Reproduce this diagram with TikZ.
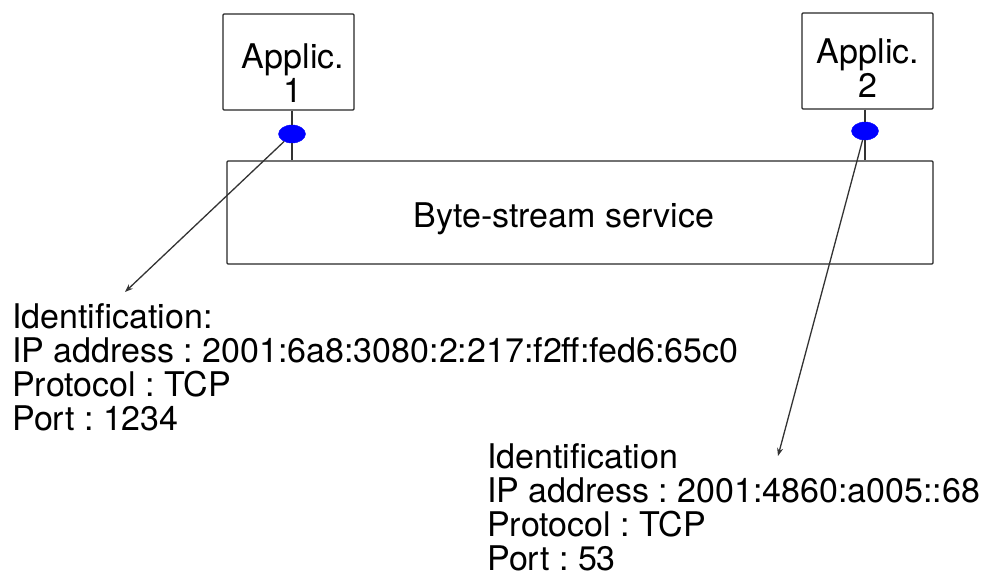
\documentclass[tikz,border=0pt]{standalone}
\usepackage{fontspec}
\setmainfont{TeX Gyre Heros}
\usetikzlibrary{arrows.meta,shapes.geometric}
\frenchspacing

\begin{document}
\begin{tikzpicture}[
  x=1pt, y=-1pt,
  box/.style={draw=black!85, line width=1.3pt, rounded corners=1pt, inner sep=0pt},
  appbox/.style={box, minimum width=131pt, minimum height=96pt},
  txt/.style={font=\fontsize{34}{34}\selectfont, inner sep=0pt},
  port/.style={ellipse, fill=blue, draw=blue, minimum width=27pt, minimum height=18pt, inner sep=0pt},
  wire/.style={draw=black!80, line width=1.3pt},
  arrow/.style={-{Stealth[length=8pt,width=6pt]}, draw=black!80, line width=1.3pt}
]
\useasboundingbox (0,0) rectangle (982,576);
% applications and the service between them
\node[appbox] (app1) at (288.5,62) {};
\node[appbox] (app2) at (867.5,61) {};
\node[txt, align=center] (app1txt) at (293,73.5) {Applic.\\1};
\node[txt, align=center] (app2txt) at (868,68) {Applic.\\2};
\node[box, minimum width=706pt, minimum height=103pt] (svc) at (580,212.5) {};
\node[txt, anchor=base] (svctxt) at (564,227) {Byte-stream service};
% access points
\node[port] (p1) at (292,134) {};
\node[port] (p2) at (865,131) {};
\draw[wire] (p1 |- app1.south) -- (p1);
\draw[wire] (p1) -- (p1 |- svc.north);
\draw[wire] (p2 |- app2.south) -- (p2);
\draw[wire] (p2) -- (p2 |- svc.north);
% identifications
\node[txt, align=left, anchor=north west] (id1) at (12,303) {Identification:\\IP address : 2001:6a8:3080:2:217:f2ff:fed6:65c0\\Protocol : TCP\\Port : 1234};
\node[txt, align=left, anchor=north west] (id2) at (487,443) {Identification\\IP address : 2001:4860:a005::68\\Protocol : TCP\\Port : 53};
\coordinate (tip1) at (125,292);
\coordinate (tip2) at (778,456);
\draw[arrow] (p1) -- (tip1);
\draw[arrow] (p2) -- (tip2);
\end{tikzpicture}
\end{document}
